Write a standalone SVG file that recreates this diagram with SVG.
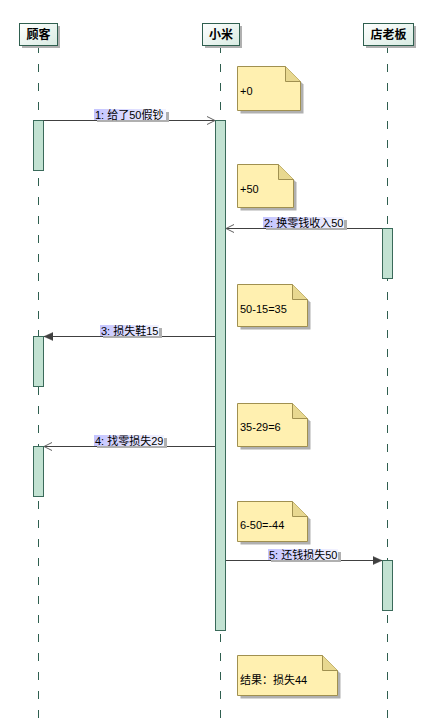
<svg xmlns="http://www.w3.org/2000/svg" width="424" height="727" viewBox="0 0 424 727">
<defs>
<linearGradient id="hg" x1="0" y1="0" x2="1" y2="1">
<stop offset="0" stop-color="#ffffff"/>
<stop offset="1" stop-color="#d8ebe2"/>
</linearGradient>
<linearGradient id="lg" x1="0" y1="0" x2="1" y2="0">
<stop offset="0" stop-color="#c4c4ff"/>
<stop offset="1" stop-color="#f4f4ff"/>
</linearGradient>
<marker id="open" markerWidth="10" markerHeight="10" refX="9" refY="5" orient="auto" markerUnits="userSpaceOnUse">
<path d="M1,1 L9,5 L1,9" fill="none" stroke="#606060" stroke-width="1"/>
</marker>
<marker id="fill" markerWidth="10" markerHeight="10" refX="9" refY="5" orient="auto" markerUnits="userSpaceOnUse">
<path d="M0,1 L9,5 L0,9 Z" fill="#404040" stroke="#404040" stroke-width="0.5"/>
</marker>
</defs>
<style>
.hdr{fill:url(#hg);stroke:#2f5f4f;stroke-width:1}
.shd{fill:#b0b0b0}
.ht{font-family:"Noto Sans CJK SC","Liberation Sans",sans-serif;font-size:12px;font-weight:bold;fill:#000;text-anchor:middle}
.life{stroke:#2f5f4f;stroke-width:1;stroke-dasharray:8,11;fill:none}
.act{fill:#c2e2d2;stroke:#3a6a5a;stroke-width:1}
.msg{stroke:#404040;stroke-width:1;fill:none}
.lbl{fill:url(#lg)}
.lt{font-family:"Liberation Sans","Noto Sans CJK SC",sans-serif;font-size:11px;fill:#000}
.note{fill:#fff0b0;stroke:#a09050;stroke-width:1}
.fold{fill:#e8d890;stroke:#a09050;stroke-width:1}
.nt{font-family:"Liberation Sans","Noto Sans CJK SC",sans-serif;font-size:11px;fill:#000}
</style>
<rect width="424" height="727" fill="#ffffff"/>
<g id="lifelines">
<line class="life" x1="38.5" y1="45" x2="38.5" y2="727"/>
<line class="life" x1="220.5" y1="45" x2="220.5" y2="727"/>
<line class="life" x1="387.5" y1="45" x2="387.5" y2="727"/>
</g>
<g id="customer">
<rect class="shd" x="22" y="26" width="38" height="22"/>
<rect class="hdr" x="19.5" y="23.5" width="38" height="22"/>
<text class="ht" x="38.5" y="39">顾客</text>
</g>
<g id="xiaomi">
<rect class="shd" x="205" y="26" width="37" height="22"/>
<rect class="hdr" x="202.5" y="23.5" width="37" height="22"/>
<text class="ht" x="221" y="39">小米</text>
</g>
<g id="boss">
<rect class="shd" x="366" y="26" width="50" height="22"/>
<rect class="hdr" x="363.5" y="23.5" width="50" height="22"/>
<text class="ht" x="388.5" y="39">店老板</text>
</g>
<g id="activations">
<rect class="act" x="33.5" y="120.5" width="10" height="50"/>
<rect class="act" x="215.5" y="120.5" width="10" height="510"/>
<rect class="act" x="382.5" y="228.5" width="10" height="50"/>
<rect class="act" x="33.5" y="336.5" width="10" height="50"/>
<rect class="act" x="33.5" y="446.5" width="10" height="50"/>
<rect class="act" x="382.5" y="560.5" width="10" height="50"/>
</g>
<g id="connectors">
<line class="msg" x1="43.5" y1="120.5" x2="215" y2="120.5" marker-end="url(#open)"/>
<line class="msg" x1="382" y1="228.5" x2="226" y2="228.5" marker-end="url(#open)"/>
<line class="msg" x1="215" y1="336.5" x2="44" y2="336.5" marker-end="url(#fill)"/>
<line class="msg" x1="215" y1="446.5" x2="44" y2="446.5" marker-end="url(#open)"/>
<line class="msg" x1="226" y1="560.5" x2="382" y2="560.5" marker-end="url(#fill)"/>
</g>
<g id="label1">
<rect class="shd" x="97" y="112" width="72" height="10"/>
<rect class="lbl" x="94" y="109" width="72" height="11"/>
<text class="lt" x="95" y="118.5">1: 给了50假钞</text>
</g>
<g id="label2">
<rect class="shd" x="266" y="220" width="81" height="10"/>
<rect class="lbl" x="263" y="217" width="81" height="11"/>
<text class="lt" x="264" y="226.5">2: 换零钱收入50</text>
</g>
<g id="label3">
<rect class="shd" x="103" y="328" width="59" height="10"/>
<rect class="lbl" x="100" y="325" width="59" height="11"/>
<text class="lt" x="101" y="334.5">3: 损失鞋15</text>
</g>
<g id="label4">
<rect class="shd" x="97" y="438" width="70" height="10"/>
<rect class="lbl" x="94" y="435" width="70" height="11"/>
<text class="lt" x="95" y="444.5">4: 找零损失29</text>
</g>
<g id="label5">
<rect class="shd" x="271" y="552" width="70" height="10"/>
<rect class="lbl" x="268" y="549" width="70" height="11"/>
<text class="lt" x="269" y="558.5">5: 还钱损失50</text>
</g>
<g id="note1">
<path class="shd" d="M240.5,69.5 H288.5 L303.5,84.5 V113.5 H240.5 Z"/>
<path class="note" d="M237.5,66.5 H285.5 L300.5,81.5 V110.5 H237.5 Z"/>
<path class="fold" d="M285.5,66.5 V81.5 H300.5"/>
<text class="nt" x="240" y="95">+0</text>
</g>
<g id="note2">
<path class="shd" d="M240.5,167.5 H281.5 L296.5,182.5 V210.5 H240.5 Z"/>
<path class="note" d="M237.5,164.5 H278.5 L293.5,179.5 V207.5 H237.5 Z"/>
<path class="fold" d="M278.5,164.5 V179.5 H293.5"/>
<text class="nt" x="240" y="193">+50</text>
</g>
<g id="note3">
<path class="shd" d="M240.5,287.5 H295.5 L310.5,302.5 V329.5 H240.5 Z"/>
<path class="note" d="M237.5,284.5 H292.5 L307.5,299.5 V326.5 H237.5 Z"/>
<path class="fold" d="M292.5,284.5 V299.5 H307.5"/>
<text class="nt" x="240" y="312.5">50-15=35</text>
</g>
<g id="note4">
<path class="shd" d="M240.5,406.5 H295.5 L310.5,421.5 V449.5 H240.5 Z"/>
<path class="note" d="M237.5,403.5 H292.5 L307.5,418.5 V446.5 H237.5 Z"/>
<path class="fold" d="M292.5,403.5 V418.5 H307.5"/>
<text class="nt" x="240" y="431">35-29=6</text>
</g>
<g id="note5">
<path class="shd" d="M240.5,504.5 H295.5 L310.5,519.5 V544.5 H240.5 Z"/>
<path class="note" d="M237.5,501.5 H292.5 L307.5,516.5 V541.5 H237.5 Z"/>
<path class="fold" d="M292.5,501.5 V516.5 H307.5"/>
<text class="nt" x="240" y="529">6-50=-44</text>
</g>
<g id="note6">
<path class="shd" d="M240.5,658.5 H325.5 L340.5,673.5 V698.5 H240.5 Z"/>
<path class="note" d="M237.5,655.5 H322.5 L337.5,670.5 V695.5 H237.5 Z"/>
<path class="fold" d="M322.5,655.5 V670.5 H337.5"/>
<text class="nt" x="240" y="684">结果：损失44</text>
</g>
</svg>
